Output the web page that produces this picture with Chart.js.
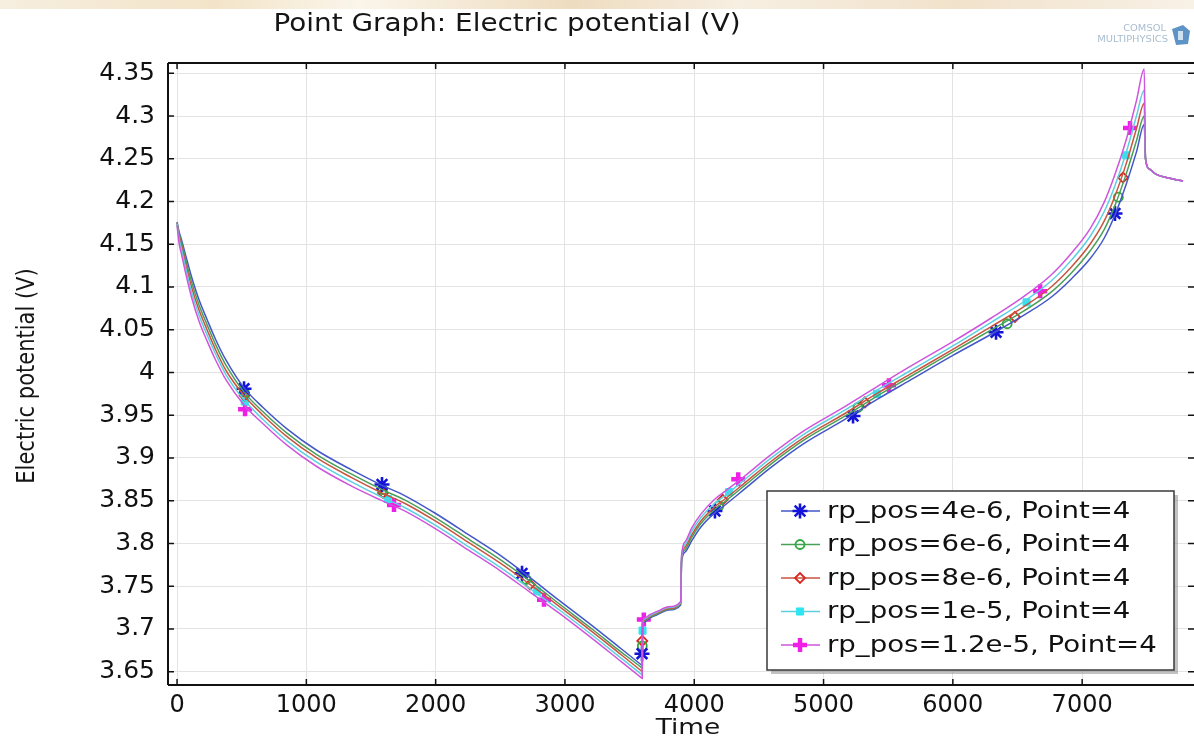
<!DOCTYPE html>
<html>
<head>
<meta charset="utf-8">
<title>Point Graph: Electric potential (V)</title>
<script src="https://cdn.jsdelivr.net/npm/chart.js"></script>
<style>
  html, body { margin: 0; padding: 0; background: #fff; }
  #wrap { position: relative; width: 1194px; height: 737px; overflow: hidden; }
  #topband { position: absolute; left: 0; top: 0; width: 1194px; height: 9px;
    background: linear-gradient(90deg, #f6eedf, #f3e4c9 18%, #fbf5ea 30%, #eedcc0 48%, #f7efe2 62%, #f1e2cb 80%, #f8f1e6); }
  canvas { position: absolute; left: 0; top: 0; }
</style>
</head>
<body>
<div id="wrap">
  <div id="topband"></div>
  <canvas id="potentialChart" width="1194" height="737"></canvas>
</div>
<script>
// ---- data ----
const timeS = [0, 15, 35, 70, 112, 170, 232, 300, 380, 518, 665, 850, 1080, 1350, 1585, 1760, 2000, 2266, 2500, 2730, 2950, 3217, 3400, 3594, 3598,
  3600, 3620, 3660, 3720, 3800, 3895, 3902, 3930, 3980, 4050, 4160, 4238, 4400, 4586, 4850, 5165, 5420, 5670, 6000, 6300, 6550, 6760, 6920,
  7061, 7170, 7250, 7340, 7420, 7480, 7490, 7520, 7570, 7650, 7780];

const vBlue = [4.176, 4.165, 4.155, 4.135, 4.112, 4.085, 4.062, 4.038, 4.014, 3.982, 3.959, 3.934, 3.909, 3.886, 3.868, 3.856, 3.835, 3.809, 3.786, 3.760, 3.734, 3.703, 3.681, 3.6575, 3.657,
  3.704, 3.709, 3.713, 3.717, 3.722, 3.728, 3.778, 3.790, 3.803, 3.819, 3.836, 3.845, 3.865, 3.888, 3.917, 3.945, 3.969, 3.991, 4.020, 4.045, 4.067, 4.088, 4.110,
  4.133, 4.157, 4.183, 4.220, 4.258, 4.290, 4.250, 4.238, 4.232, 4.228, 4.224];

const vGreen = [4.175, 4.163, 4.152, 4.130, 4.106, 4.079, 4.056, 4.032, 4.008, 3.977, 3.954, 3.929, 3.904, 3.881, 3.863, 3.851, 3.830, 3.804, 3.781, 3.756, 3.730, 3.699, 3.677, 3.6545, 3.654,
  3.705, 3.710, 3.714, 3.718, 3.723, 3.729, 3.780, 3.793, 3.807, 3.823, 3.840, 3.849, 3.869, 3.892, 3.921, 3.949, 3.973, 3.995, 4.024, 4.050, 4.072, 4.094, 4.117,
  4.142, 4.167, 4.194, 4.232, 4.271, 4.300, 4.250, 4.238, 4.232, 4.228, 4.224];

const vRed = [4.175, 4.160, 4.148, 4.125, 4.100, 4.073, 4.050, 4.026, 4.002, 3.973, 3.950, 3.925, 3.900, 3.877, 3.859, 3.847, 3.826, 3.800, 3.777, 3.752, 3.727, 3.696, 3.674, 3.6505, 3.650,
  3.706, 3.711, 3.715, 3.719, 3.724, 3.730, 3.782, 3.796, 3.810, 3.826, 3.843, 3.852, 3.872, 3.895, 3.924, 3.952, 3.976, 3.998, 4.027, 4.054, 4.077, 4.100, 4.124,
  4.150, 4.177, 4.205, 4.244, 4.285, 4.315, 4.250, 4.238, 4.232, 4.228, 4.224];

const vCyan = [4.174, 4.157, 4.144, 4.120, 4.094, 4.067, 4.044, 4.021, 3.997, 3.968, 3.945, 3.920, 3.895, 3.872, 3.854, 3.842, 3.821, 3.795, 3.772, 3.747, 3.723, 3.692, 3.670, 3.6465, 3.646,
  3.707, 3.712, 3.716, 3.720, 3.725, 3.731, 3.784, 3.799, 3.814, 3.830, 3.847, 3.856, 3.876, 3.899, 3.928, 3.956, 3.980, 4.002, 4.031, 4.059, 4.083, 4.107, 4.132,
  4.159, 4.188, 4.217, 4.257, 4.300, 4.330, 4.250, 4.238, 4.232, 4.228, 4.224];

const vMagenta = [4.172, 4.152, 4.138, 4.114, 4.088, 4.060, 4.037, 4.014, 3.991, 3.962, 3.940, 3.915, 3.890, 3.867, 3.850, 3.838, 3.817, 3.791, 3.768, 3.743, 3.719, 3.688, 3.666, 3.6425, 3.642,
  3.708, 3.713, 3.717, 3.721, 3.726, 3.732, 3.786, 3.802, 3.818, 3.834, 3.852, 3.861, 3.880, 3.903, 3.932, 3.960, 3.984, 4.007, 4.036, 4.064, 4.089, 4.114, 4.140,
  4.168, 4.199, 4.230, 4.272, 4.318, 4.355, 4.250, 4.238, 4.232, 4.228, 4.224];

// marker positions (time, value)
const mkBlueT = [518, 1585, 2668, 3596, 4160, 5228, 6334, 7254];
const mkBlueV = [3.981, 3.869, 3.765, 3.671, 3.838, 3.949, 4.047, 4.186];
const mkGreenT = [520, 1590, 2700, 3598, 4190, 5266, 6420, 7280];
const mkGreenV = [3.977, 3.863, 3.758, 3.680, 3.844, 3.959, 4.057, 4.205];
const mkRedT = [522, 1593, 2730, 3598, 4220, 5320, 6480, 7316];
const mkRedV = [3.973, 3.859, 3.752, 3.686, 3.851, 3.965, 4.065, 4.228];
const mkCyanT = [524, 1630, 2784, 3600, 4270, 5413, 6570, 7340];
const mkCyanV = [3.966, 3.852, 3.744, 3.698, 3.860, 3.975, 4.082, 4.254];
const mkMagT = [526, 1678, 2838, 3610, 4340, 5506, 6675, 7370];
const mkMagV = [3.957, 3.845, 3.734, 3.711, 3.875, 3.985, 4.095, 4.286];

const seriesNames = ["rp_pos=4e-6, Point=4", "rp_pos=6e-6, Point=4", "rp_pos=8e-6, Point=4", "rp_pos=1e-5, Point=4", "rp_pos=1.2e-5, Point=4"];
const xTicks = [0, 1000, 2000, 3000, 4000, 5000, 6000, 7000];
const yTicks = [3.65, 3.7, 3.75, 3.8, 3.85, 3.9, 3.95, 4, 4.05, 4.1, 4.15, 4.2, 4.25, 4.3, 4.35];

// ---- styles ----
const lineColors = ["#4357c8", "#4a9f58", "#c8553f", "#5ccfe0", "#cf55dc"];
const markStyles = [
  { pointStyle: 'star', radius: 7.5, borderWidth: 2.6, borderColor: '#1414d8', backgroundColor: '#1414d8' },
  { pointStyle: 'circle', radius: 4.5, borderWidth: 1.8, borderColor: '#2ea83a', backgroundColor: 'rgba(255,255,255,0)' },
  { pointStyle: 'rectRot', radius: 5, borderWidth: 1.8, borderColor: '#d8281e', backgroundColor: 'rgba(255,255,255,0)' },
  { pointStyle: 'rect', radius: 5, borderWidth: 1, borderColor: '#2ee6f2', backgroundColor: '#2ee6f2' },
  { pointStyle: 'cross', radius: 7, borderWidth: 4.5, borderColor: '#f01ee6', backgroundColor: '#f01ee6' }
];

const curveValues = [vBlue, vGreen, vRed, vCyan, vMagenta];
const markT = [mkBlueT, mkGreenT, mkRedT, mkCyanT, mkMagT];
const markV = [mkBlueV, mkGreenV, mkRedV, mkCyanV, mkMagV];

const datasets = [];
for (let i = 4; i >= 0; i--) {
  datasets.push({
    type: 'line',
    label: seriesNames[i],
    data: timeS.map((t, k) => ({ x: t, y: curveValues[i][k] })),
    borderColor: lineColors[i],
    borderWidth: 1.5,
    pointRadius: 0,
    fill: false,
    cubicInterpolationMode: 'monotone'
  });
}
for (let i = 0; i < 5; i++) {
  const m = markStyles[i];
  datasets.push({
    type: 'scatter',
    label: seriesNames[i] + ' markers',
    data: markT[i].map((t, k) => ({ x: t, y: markV[i][k] })),
    showLine: false,
    pointStyle: m.pointStyle,
    pointRadius: m.radius,
    pointBorderWidth: m.borderWidth,
    pointBorderColor: m.borderColor,
    pointBackgroundColor: m.backgroundColor
  });
}

function stretchText(ctx, text, x, y, sx, align) {
  ctx.save();
  ctx.translate(x, y);
  ctx.scale(sx, 1);
  ctx.textAlign = align || 'left';
  ctx.fillText(text, 0, 0);
  ctx.restore();
}

// frame, inward ticks, titles, legend, logo
const decorations = {
  id: 'decorations',
  afterDatasetsDraw(chart) {
    const ctx = chart.ctx;
    const a = chart.chartArea;
    const xs = chart.scales.x, ys = chart.scales.y;

    ctx.save();
    ctx.strokeStyle = '#111';
    ctx.lineWidth = 2;
    ctx.beginPath();
    ctx.moveTo(a.left, a.top); ctx.lineTo(a.right, a.top);
    ctx.moveTo(a.left, a.top); ctx.lineTo(a.left, a.bottom);
    ctx.moveTo(a.left, a.bottom); ctx.lineTo(a.right, a.bottom);
    ctx.stroke();

    ctx.lineWidth = 1.5;
    ctx.beginPath();
    xs.ticks.forEach(t => {
      const px = xs.getPixelForValue(t.value);
      ctx.moveTo(px, a.bottom); ctx.lineTo(px, a.bottom - 6);
      ctx.moveTo(px, a.top); ctx.lineTo(px, a.top + 6);
    });
    ys.ticks.forEach(t => {
      const py = ys.getPixelForValue(t.value);
      ctx.moveTo(a.left, py); ctx.lineTo(a.left + 6, py);
      ctx.moveTo(a.right, py); ctx.lineTo(a.right - 6, py);
    });
    ctx.stroke();

    // legend
    const lx = 767, ly = 491, lw = 407, lh = 179;
    ctx.fillStyle = 'rgba(120,120,120,0.45)';
    ctx.fillRect(lx + 4, ly + 4, lw, lh);
    ctx.fillStyle = '#fff';
    ctx.fillRect(lx, ly, lw, lh);
    ctx.strokeStyle = '#3a3a3a';
    ctx.lineWidth = 1.5;
    ctx.strokeRect(lx, ly, lw, lh);
    ctx.font = '23px "DejaVu Sans"';
    ctx.textBaseline = 'middle';
    for (let i = 0; i < 5; i++) {
      const yy = 511 + i * 33.5;
      ctx.strokeStyle = lineColors[i];
      ctx.lineWidth = 1.6;
      ctx.beginPath();
      ctx.moveTo(781, yy); ctx.lineTo(820, yy);
      ctx.stroke();
      const m = markStyles[i];
      ctx.strokeStyle = m.borderColor;
      ctx.fillStyle = m.backgroundColor;
      ctx.lineWidth = m.borderWidth;
      Chart.helpers.drawPoint(ctx, { pointStyle: m.pointStyle, radius: m.radius, rotation: 0, borderWidth: m.borderWidth }, 800, yy);
      ctx.fillStyle = '#111';
      stretchText(ctx, seriesNames[i], 827, yy + 1, 1.2);
    }

    // titles
    ctx.fillStyle = '#151515';
    ctx.textBaseline = 'alphabetic';
    ctx.font = '24px "DejaVu Sans"';
    stretchText(ctx, 'Point Graph: Electric potential (V)', 507, 31, 1.16, 'center');
    ctx.font = '22px "DejaVu Sans"';
    stretchText(ctx, 'Time', 688, 734, 1.2, 'center');
    ctx.save();
    ctx.translate(34, 376);
    ctx.rotate(-Math.PI / 2);
    ctx.scale(1, 1.15);
    ctx.font = '21px "DejaVu Sans"';
    ctx.textAlign = 'center';
    ctx.fillText('Electric potential (V)', 0, 0);
    ctx.restore();

    // COMSOL logo
    ctx.fillStyle = '#a9bccf';
    ctx.font = '9px "DejaVu Sans"';
    stretchText(ctx, 'COMSOL', 1166, 31, 1.1, 'right');
    stretchText(ctx, 'MULTIPHYSICS', 1168, 42, 1.1, 'right');
    ctx.fillStyle = '#5e93c6';
    ctx.beginPath();
    ctx.moveTo(1172, 29); ctx.lineTo(1183, 25); ctx.lineTo(1190, 31);
    ctx.lineTo(1188, 44); ctx.lineTo(1176, 45); ctx.closePath();
    ctx.fill();
    ctx.fillStyle = '#cfe2f2';
    ctx.fillRect(1178, 31, 5, 9);
    ctx.restore();
  }
};

new Chart(document.getElementById('potentialChart'), {
  data: { datasets: datasets },
  options: {
    responsive: false,
    animation: false,
    layout: { padding: { top: 63, right: 0, bottom: 0, left: 0 }, autoPadding: false },
    plugins: { legend: { display: false }, tooltip: { enabled: false }, title: { display: false } },
    scales: {
      x: {
        type: 'linear',
        min: -70,
        max: 7865,
        afterBuildTicks: s => { s.ticks = xTicks.map(v => ({ value: v })); },
        afterFit: s => { s.height = 52; s.paddingLeft = 0; s.paddingRight = 0; },
        ticks: {
          font: { family: 'DejaVu Sans', size: 24 },
          color: '#111',
          padding: 6,
          maxRotation: 0,
          autoSkip: false,
          callback: v => String(v)
        },
        grid: { color: '#e3e3e3', lineWidth: 1, drawTicks: false },
        border: { display: false }
      },
      y: {
        type: 'linear',
        min: 3.6344,
        max: 4.362,
        afterBuildTicks: s => { s.ticks = yTicks.map(v => ({ value: v })); },
        afterFit: s => { s.width = 168; s.paddingTop = 0; s.paddingBottom = 0; },
        ticks: {
          font: { family: 'DejaVu Sans', size: 25 },
          color: '#111',
          padding: 13,
          autoSkip: false,
          callback: v => String(Number(v.toFixed(2)))
        },
        grid: { color: '#e3e3e3', lineWidth: 1, drawTicks: false },
        border: { display: false }
      }
    }
  },
  plugins: [decorations]
});
</script>
</body>
</html>
